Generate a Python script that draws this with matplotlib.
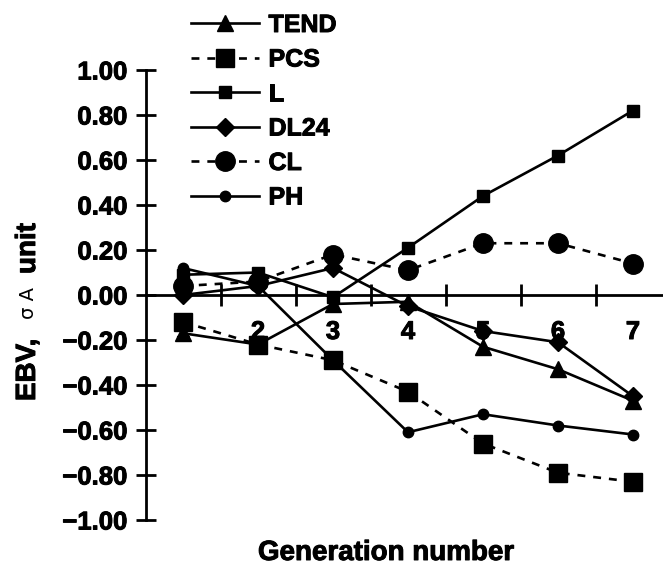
import matplotlib
matplotlib.use('Agg')
import matplotlib.pyplot as plt
import matplotlib.patheffects as pe

plt.rcParams['font.family'] = 'Liberation Sans'
plt.rcParams['font.weight'] = 'bold'

generations = [1, 2, 3, 4, 5, 6, 7]
gen_labels = ['1', '2', '3', '4', '5', '6', '7']

tend = [-0.17, -0.22, -0.04, -0.03, -0.23, -0.33, -0.47]
pcs = [-0.12, -0.22, -0.29, -0.43, -0.66, -0.79, -0.83]
l_vals = [0.09, 0.10, -0.01, 0.21, 0.44, 0.62, 0.82]
dl24 = [0.00, 0.04, 0.12, -0.05, -0.16, -0.21, -0.45]
cl = [0.04, 0.06, 0.18, 0.11, 0.23, 0.23, 0.14]
ph = [0.12, 0.04, -0.29, -0.61, -0.53, -0.58, -0.62]

W, H = 663, 567
fig = plt.figure(figsize=(W / 100, H / 100), dpi=100)
ax = fig.add_axes([145.5 / W, 47 / H, (W - 145.5) / W, 450 / H])

lw = 1.9
dash = (0, (3, 3))
ax.plot(generations, tend, color='black', lw=lw, marker='^', ms=11, label='TEND')
ax.plot(generations, pcs, color='black', lw=lw, ls=dash, marker='s', ms=13, label='PCS')
ax.plot(generations, l_vals, color='black', lw=lw, marker='s', ms=8.5, label='L')
ax.plot(generations, dl24, color='black', lw=lw, marker='D', ms=9.5, label='DL24')
ax.plot(generations, cl, color='black', lw=lw, ls=dash, marker='o', ms=14, label='CL')
ax.plot(generations, ph, color='black', lw=lw, marker='o', ms=7.5, label='PH')

ax.set_xlim(0.5, 7.4)
ax.set_ylim(-1.0, 1.0)

for s in ['top', 'right']:
    ax.spines[s].set_visible(False)
ax.spines['bottom'].set_position(('data', 0))
ax.spines['bottom'].set_linewidth(2)
ax.spines['left'].set_linewidth(2)

# ticks between categories, labels on categories
ax.set_xticks([1.5, 2.5, 3.5, 4.5, 5.5, 6.5])
ax.set_xticklabels([])
ax.set_xticks(generations, minor=True)
ax.set_xticklabels(gen_labels, minor=True)
ax.tick_params(axis='x', which='major', direction='inout', length=16, width=2)
ax.tick_params(axis='x', which='minor', length=0, pad=18, labelsize=18.5)

yt = [-1.0, -0.8, -0.6, -0.4, -0.2, 0.0, 0.2, 0.4, 0.6, 0.8, 1.0]
ax.set_yticks(yt)
ax.set_yticklabels([('%.2f' % v).replace('-', '\u2212') for v in yt])
ax.tick_params(axis='y', direction='inout', length=14, width=2, labelsize=18.5, pad=6)

fig.text(386 / W, 1 - 553 / H, 'Generation number', ha='center', va='center',
         fontsize=20, fontweight='bold')

# y label in pieces: bold text with thin sigma A
fig.text(28 / W, 1 - 401 / H, 'EBV,', rotation=90, rotation_mode='anchor',
         ha='left', va='center', fontsize=20, fontweight='bold')
fig.text(28 / W, 1 - 319 / H, '\u03c3 \u0391', rotation=90, rotation_mode='anchor',
         ha='left', va='center', fontsize=14, fontweight='normal', family='DejaVu Sans')
fig.text(28 / W, 1 - 274 / H, 'unit', rotation=90, rotation_mode='anchor',
         ha='left', va='center', fontsize=20, fontweight='bold')

leg = fig.legend(loc='upper left', bbox_to_anchor=(191 / W, 1 - 13 / H), frameon=False,
                 numpoints=1, handlelength=2.7, handletextpad=0.4, labelspacing=0.42,
                 borderpad=0, borderaxespad=0, prop={'size': 18, 'weight': 'bold'})

heavy = [pe.withStroke(linewidth=0.7, foreground='black')]
for t in ax.get_yticklabels() + ax.get_xticklabels(minor=True) + leg.get_texts() + fig.texts:
    if t.get_fontweight() == 'bold':
        t.set_path_effects(heavy)

fig.savefig('out.png', dpi=100)
